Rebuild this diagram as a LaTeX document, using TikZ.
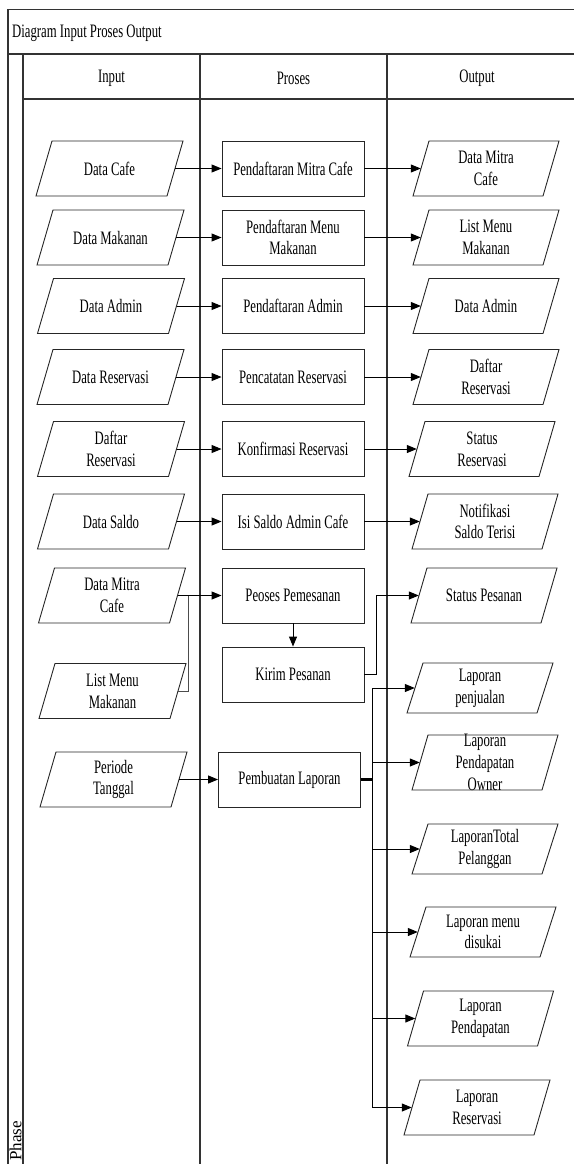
\documentclass[tikz,border=0pt]{standalone}
\usepackage{fontspec}
\usetikzlibrary{arrows.meta,calc}
\newfontfamily\dfont[FakeStretch=0.67]{Liberation Serif}
\newfontfamily\pfont{Liberation Serif}
\tikzset{
  frameline/.style={draw=black!80, line width=1.4pt},
  laneline/.style={draw=black!80, line width=1.1pt},
  txt/.style={font={\dfont\fontsize{19}{21.7}\selectfont}, align=center, inner sep=0pt},
  procbox/.style={txt, draw=black!85, line width=0.9pt, minimum width=142pt, minimum height=55pt},
  inbox/.style={txt, minimum width=131pt, minimum height=55pt},
  outbox/.style={txt, minimum width=130pt, minimum height=55pt},
  ioline/.style={draw=black!85, line width=0.9pt},
  conn/.style={draw=black, line width=1pt, -{Triangle[length=10pt,width=8pt]}},
  joinline/.style={draw=black!70, line width=1pt},
}
\begin{document}
\begin{tikzpicture}[x=1pt, y=-1pt]
\useasboundingbox (0,0) rectangle (573,1164);

% pool frame, title row, header row and lanes
\draw[frameline] (8,1170) -- (8,9.5) -- (580,9.5);
\draw[frameline] (8,54) -- (580,54);
\draw[frameline] (23,54) -- (23,1170);
\draw[frameline] (23,99) -- (580,99);
\draw[laneline] (200,54) -- (200,1170);
\draw[laneline] (387,54) -- (387,1170);

\node[txt, anchor=west] (title) at (12,33) {Diagram Input Proses Output};
\node[txt] (hin) at (111.5,78) {Input};
\node[txt] (hpr) at (293.5,78) {Proses};
\node[txt] (hout) at (477,78) {Output};
\node[font={\pfont\fontsize{17}{20}\selectfont}, inner sep=0pt, rotate=90, anchor=west] (phase) at (15.5,1161) {Phase};

% input data
\node[inbox] (i1) at (109.5,168.5) {Data Cafe};
\node[inbox] (i2) at (110.5,237.5) {Data Makanan};
\node[inbox] (i3) at (111,306) {Data Admin};
\node[inbox] (i4) at (110.5,377) {Data Reservasi};
\node[inbox] (i5) at (111,449) {Daftar\\Reservasi};
\node[inbox] (i6) at (111,521.5) {Data Saldo};
\node[inbox] (i7) at (112,595.5) {Data Mitra\\Cafe};
\node[inbox] (i8) at (112.5,691) {List Menu\\Makanan};
\node[inbox] (i9) at (113.5,779.5) {Periode\\Tanggal};

% processes
\node[procbox] (p1) at (293,168.5) {Pendaftaran Mitra Cafe};
\node[procbox] (p2) at (293,237.5) {Pendaftaran Menu\\Makanan};
\node[procbox] (p3) at (293,306) {Pendaftaran Admin};
\node[procbox] (p4) at (293,377) {Pencatatan Reservasi};
\node[procbox] (p5) at (293,449) {Konfirmasi Reservasi};
\node[procbox] (p6) at (293,521.5) {Isi Saldo Admin Cafe};
\node[procbox] (p7) at (293,595.5) {Peoses Pemesanan};
\node[procbox] (p8) at (293,674.5) {Kirim Pesanan};
\node[procbox] (p9) at (289.5,779.5) {Pembuatan Laporan};

% outputs
\node[outbox] (o1) at (486,168.5) {Data Mitra\\Cafe};
\node[outbox] (o2) at (486,237.5) {List Menu\\Makanan};
\node[outbox] (o3) at (486,306) {Data Admin};
\node[outbox] (o4) at (486,377) {Daftar\\Reservasi};
\node[outbox] (o5) at (482,449) {Status\\Reservasi};
\node[outbox] (o6) at (485,521.5) {Notifikasi\\Saldo Terisi};
\node[outbox] (o7) at (484,595.5) {Status Pesanan};
\node[outbox, minimum height=50pt] (o8) at (480,688) {Laporan\\penjualan};
\node[outbox] (o9) at (485,762.5) {Laporan\\Pendapatan\\Owner};
\node[outbox, minimum height=50pt] (o10) at (485,849) {LaporanTotal\\Pelanggan};
\node[outbox, minimum height=50pt] (o11) at (483,932) {Laporan menu\\disukai};
\node[outbox] (o12) at (480.5,1018.5) {Laporan\\Pendapatan};
\node[outbox] (o13) at (477,1107.5) {Laporan\\Reservasi};

% data parallelograms: node / half width / half slant / half height
\foreach \n/\h/\s/\hh in {i1/65.5/8/27.5, i2/65.5/8/27.5, i3/65.5/8/27.5, i4/65.5/8/27.5,
    i5/65.5/8/27.5, i6/65.5/8/27.5, i7/65.5/8/27.5, i8/65.5/8/27.5, i9/65.5/8/27.5,
    o1/65/8/27.5, o2/65/8/27.5, o3/65/8/27.5, o4/65/8/27.5, o5/65/8/27.5, o6/65/8/27.5,
    o7/65/8/27.5, o8/65/8/25, o9/65/8/27.5, o10/65/8/25, o11/65/8/25, o12/65/8/27.5, o13/65/8/27.5}
  \draw[ioline] ([shift={({-\h-\s},\hh)}]\n.center) -- ([shift={({-\h+\s},{-\hh})}]\n.center)
     -- ([shift={({\h+\s},{-\hh})}]\n.center) -- ([shift={({\h-\s},\hh)}]\n.center) -- cycle;

% straight flows
\foreach \k in {1,...,6}{
  \draw[conn] (i\k.east) -- (p\k.west);
  \draw[conn] (p\k.east) -- (o\k.west);
}

% ordering
\coordinate (m1) at (188,595.5);
\draw[joinline] (i8.east) -| (m1);
\draw[conn] (i7.east) -- (p7.west);
\draw[conn] (p7.south) -- (p8.north);
\coordinate (k1) at (376,674.5);
\draw[conn] (p8.east) -- (k1) |- (o7.west);

% reports
\draw[conn] (i9.east) -- (p9.west);
\coordinate (tr) at (372,779.5);
\foreach \o in {o8,o9,o10,o11,o12,o13}
  \draw[conn] (tr) |- (\o.west);
\draw[draw=black, line width=2.4pt] (p9.east) -- (tr);
\end{tikzpicture}
\end{document}
